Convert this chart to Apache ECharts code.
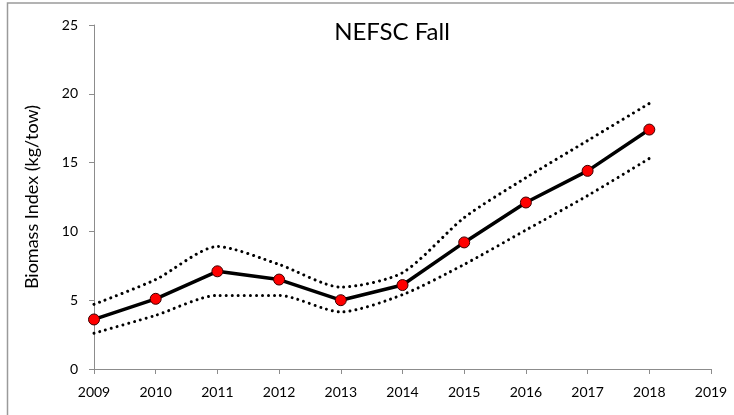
<!DOCTYPE html>
<html>
<head>
<meta charset="utf-8">
<script src="https://cdn.jsdelivr.net/npm/echarts@6/dist/echarts.min.js"></script>
<style>
html,body{margin:0;padding:0;background:#fff;}
#c{width:734px;height:415px;}
</style>
</head>
<body>
<div id="c"></div>
<script>
const years = [2009, 2010, 2011, 2012, 2013, 2014, 2015, 2016, 2017, 2018];
const biomass = [3.6, 5.1, 7.1, 6.5, 5.0, 6.1, 9.2, 12.1, 14.4, 17.4];
const upperCI = [4.7, 6.5, 8.9, 7.6, 5.95, 7.0, 11.0, 13.9, 16.6, 19.3];
const lowerCI = [2.6, 3.9, 5.35, 5.35, 4.15, 5.4, 7.6, 10.1, 12.6, 15.3];
const titleText = 'NEFSC Fall';
const yAxisTitle = 'Biomass Index (kg/tow)';

const pair = (vals) => years.map((y, i) => [y, vals[i]]);
const FONT = 'Lato';

const chart = echarts.init(document.getElementById('c'));
chart.setOption({
  animation: false,
  backgroundColor: '#fff',
  title: {
    text: titleText,
    left: 387, top: 15,
    textAlign: 'center',
    textStyle: {fontFamily: FONT, fontSize: 24, fontWeight: 'normal', color: '#000'}
  },
  graphic: [{
    type: 'rect',
    shape: {x: 7.5, y: 3, width: 760, height: 440},
    style: {fill: 'none', stroke: '#9a9a9a', lineWidth: 1.5},
    silent: true
  }],
  grid: {left: 94, right: 23, top: 25, bottom: 46, containLabel: false},
  xAxis: {
    type: 'value', min: 2009, max: 2019, interval: 1,
    axisLine: {lineStyle: {color: '#8c8c8c', width: 1}},
    axisTick: {show: true, inside: false, length: 5, lineStyle: {color: '#8c8c8c'}},
    axisLabel: {fontFamily: FONT, fontSize: 14, color: '#000', margin: 16, formatter: v => String(v)},
    splitLine: {show: false}
  },
  yAxis: {
    type: 'value', min: 0, max: 25, interval: 5,
    name: yAxisTitle,
    nameLocation: 'middle',
    nameGap: 53,
    nameRotate: 90,
    nameTextStyle: {fontFamily: FONT, fontSize: 18, color: '#000'},
    axisLine: {show: true, lineStyle: {color: '#8c8c8c', width: 1}},
    axisTick: {show: true, inside: false, length: 5, lineStyle: {color: '#8c8c8c'}},
    axisLabel: {fontFamily: FONT, fontSize: 14, color: '#000', margin: 16},
    splitLine: {show: false}
  },
  series: [
    {
      type: 'line', data: pair(upperCI), symbol: 'none', smooth: 0.25,
      lineStyle: {color: '#000', width: 3, type: [0.01, 6], cap: 'round'},
      z: 2
    },
    {
      type: 'line', data: pair(lowerCI), symbol: 'none', smooth: 0.25,
      lineStyle: {color: '#000', width: 3, type: [0.01, 6], cap: 'round'},
      z: 2
    },
    {
      type: 'line', data: pair(biomass), symbol: 'circle', symbolSize: 11,
      lineStyle: {color: '#000', width: 3.5},
      itemStyle: {color: '#ff0000', borderColor: '#3a0000', borderWidth: 1},
      z: 3
    }
  ]
});
</script>
</body>
</html>
